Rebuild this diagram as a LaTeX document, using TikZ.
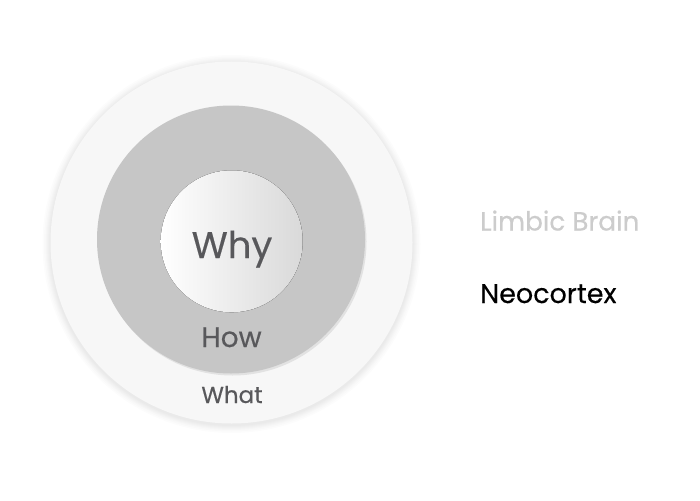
\documentclass[tikz,border=0pt]{standalone}
\usepackage{fontspec}
\setmainfont{Poppins}[FakeBold=0.4]
\definecolor{outerfill}{HTML}{F7F7F7}
\definecolor{midfill}{HTML}{C6C6C6}
\definecolor{midshadow}{HTML}{E2E2E2}
\definecolor{innerright}{HTML}{D9D9D9}
\definecolor{labelgray}{HTML}{58585B}
\definecolor{limbic}{HTML}{CCCCCC}
\begin{document}
\begin{tikzpicture}[x=1pt,y=-1pt,
  ring/.style={circle,inner sep=0pt,draw=none},
  lbl/.style={text=labelgray,inner sep=0pt}]
\useasboundingbox (0,0) rectangle (700,500);
\fill[white] (0,0) rectangle (700,500);
% soft shadow of outer circle
\foreach \r in {189,187.5,186,185,184,183,182}{
  \fill[black,opacity=0.012] (231.5,244) circle (\r);
}
\node[ring,fill=outerfill,minimum size=362pt] (outer) at (231.5,242.5) {};
% shadow of middle circle
\node[ring,fill=midshadow,minimum size=268pt] (midsh) at (232.5,241.5) {};
\node[ring,fill=midfill,minimum size=268pt] (mid) at (231,239.5) {};
\coordinate (ic) at (231.7,241.3);
\fill[left color=white,right color=innerright,draw=none] (ic) circle (71);
\node[ring,minimum size=142pt] (inner) at (ic) {};
\node[lbl,anchor=base,font=\fontsize{37}{37}\selectfont] (why) at (232,258) {Why};
\node[lbl,anchor=base,font=\fontsize{28}{28}\selectfont] (how) at (231.5,347) {How};
\node[lbl,anchor=base,font=\fontsize{23}{23}\selectfont] (what) at (232,403) {What};
\node[text=limbic,anchor=base west,inner sep=0pt,font=\fontsize{26.3}{26.3}\selectfont] (limb) at (480,230.5) {Limbic Brain};
\node[text=black,anchor=base west,inner sep=0pt,font=\fontsize{27}{27}\selectfont] (neo) at (480,303) {Neocortex};
\end{tikzpicture}
\end{document}
